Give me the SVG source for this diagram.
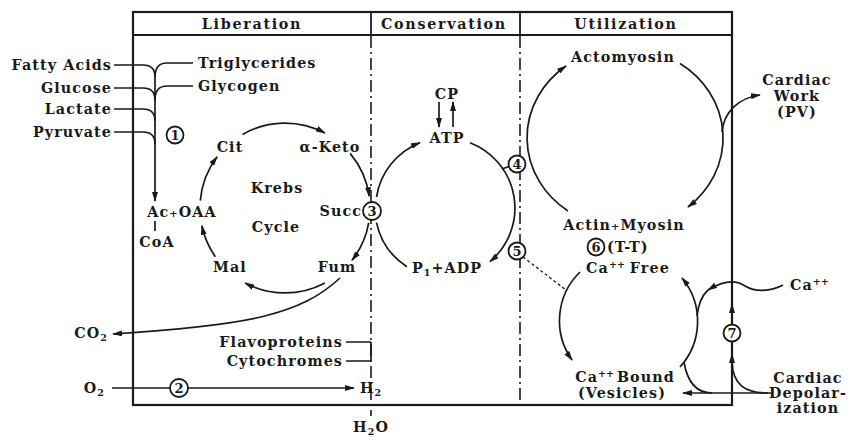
<svg xmlns="http://www.w3.org/2000/svg" width="852" height="437" viewBox="0 0 852 437">
<style>
text{font-family:"DejaVu Serif","Liberation Serif",serif;font-weight:bold;font-size:14.3px;fill:#1a1a1a;letter-spacing:1.1px}
.h{font-size:14.3px;letter-spacing:1.7px;text-anchor:middle}
.m{text-anchor:middle}
.e{text-anchor:end}
.n{font-size:13px;letter-spacing:0;text-anchor:middle}
.sub{font-size:9.5px}
.sup{font-size:9.5px;letter-spacing:0}
.ln{fill:none;stroke:#1a1a1a;stroke-width:1.7}
.ar{fill:none;stroke:#1a1a1a;stroke-width:1.7;marker-end:url(#ah)}
.dd{fill:none;stroke:#1a1a1a;stroke-width:1.6;stroke-dasharray:12 4 2 4}
.ds{fill:none;stroke:#1a1a1a;stroke-width:1.3;stroke-dasharray:3 2.5}
.c{fill:#fff;stroke:#1a1a1a;stroke-width:1.8}
</style>
<defs>
<marker id="ah" viewBox="0 0 10 6" refX="9" refY="3" markerWidth="10" markerHeight="6" markerUnits="userSpaceOnUse" orient="auto">
<path d="M0,0 L10,3 L0,6 z" fill="#1a1a1a"/>
</marker>
</defs>
<rect width="852" height="437" fill="#fff"/>

<g id="frame">
<rect x="133" y="12" width="599" height="393" fill="none" stroke="#1a1a1a" stroke-width="2.2"/>
<line x1="133" y1="35" x2="732" y2="35" stroke="#1a1a1a" stroke-width="2"/>
<line x1="371" y1="12" x2="371" y2="35" stroke="#1a1a1a" stroke-width="1.8"/>
<line x1="520" y1="12" x2="520" y2="35" stroke="#1a1a1a" stroke-width="1.8"/>
<path class="dd" d="M371,36 V416"/>
<path class="dd" d="M520,36 V405"/>
<text class="h" x="252" y="29">Liberation</text>
<text class="h" x="444" y="29">Conservation</text>
<text class="h" x="626" y="29">Utilization</text>
</g>

<g id="connectors">
<path class="ln" d="M114,65 H143 Q155,65 155,77"/>
<path class="ln" d="M193,63 H167 Q155,63 155,77"/>
<path class="ln" d="M114,88 H143 Q155,88 155,100"/>
<path class="ln" d="M193,86 H167 Q155,86 155,100"/>
<path class="ln" d="M114,109 H143 Q155,109 155,121"/>
<path class="ln" d="M114,132 H143 Q155,132 155,144"/>
<path class="ar" d="M155,75 V201"/>
<line class="ln" x1="155" y1="221" x2="155" y2="231"/>
<path class="ar" d="M242.5,134.4 A85,85 0 0 1 324.9,133"/>
<path class="ar" d="M350.1,153.4 A85,85 0 0 1 369.2,196.2"/>
<path class="ar" d="M368.7,222.8 A85,85 0 0 1 352,260.3"/>
<path class="ar" d="M324.9,283 A85,85 0 0 1 245.1,283"/>
<path class="ar" d="M215.4,256.8 A85,85 0 0 1 201.9,225.7"/>
<path class="ar" d="M200.3,200.6 A85,85 0 0 1 217.1,156.8"/>
<path class="ar" d="M340,278 C300,315 250,325 113,334"/>
<path class="ln" d="M346,342 H371 M346,361 H371 M371,342 V361"/>
<path class="ar" d="M112,388 H354"/>
<path class="ar" d="M376.5,197 A70,70 0 0 1 420,142.7"/>
<path class="ar" d="M470,142.7 A70,70 0 0 1 490,261.6"/>
<path class="ln" d="M376.5,222.6 A70,70 0 0 0 406.9,266.7"/>
<path class="ar" d="M439,102 V127"/>
<path class="ar" d="M453,127 V102"/>
<line class="ln" x1="502" y1="169" x2="510" y2="166"/>
<path class="ds" d="M523,257 L566,290"/>
<path class="ar" d="M568,211 A98,90 0 0 1 566,66"/>
<path class="ar" d="M680,63.5 A98,90 0 0 1 688,207"/>
<path class="ar" d="M722,132 C724,112 738,98 760,95"/>
<path class="ar" d="M580,272 A68,68 0 0 0 572,360"/>
<path class="ar" d="M680,367 A68,68 0 0 0 682,278"/>
<path class="ar" d="M783,285 C770,292 755,292 745,286 C738,281 726,279 708,290"/>
<path class="ln" d="M708,290 Q699,298 697,316"/>
<path class="ar" d="M772,393 H683"/>
<path class="ln" d="M768,393 C745,393 733,385 732,362"/>
<path class="ln" d="M712,393 C695,393 687,380 684,362"/>
<path class="ar" d="M732,318 V304"/>
<path class="ar" d="M732,368 V354"/>
</g>

<g id="n-fatty"><text class="e" x="112" y="70">Fatty Acids</text></g>
<g id="n-glucose"><text class="e" x="112" y="93">Glucose</text></g>
<g id="n-lactate"><text class="e" x="112" y="114">Lactate</text></g>
<g id="n-pyruvate"><text class="e" x="112" y="137">Pyruvate</text></g>
<g id="n-trig"><text x="198" y="68">Triglycerides</text></g>
<g id="n-glycogen"><text x="198" y="91">Glycogen</text></g>
<g id="n-1"><circle class="c" cx="175" cy="135" r="8.5"/><text class="n" x="175" y="139.5">1</text></g>

<g id="n-acoaa"><text class="m" x="182" y="217">Ac<tspan font-size="10">+</tspan>OAA</text></g>
<g id="n-coa"><text class="m" x="157" y="247">CoA</text></g>
<g id="n-cit"><text class="m" x="230" y="152">Cit</text></g>
<g id="n-keto"><text class="m" x="330" y="152">α-Keto</text></g>
<g id="n-krebs"><text class="m" x="277" y="193">Krebs</text><text class="m" x="276" y="232">Cycle</text></g>
<g id="n-succ"><text class="e" x="362" y="216">Succ</text></g>
<g id="n-3"><circle class="c" cx="372" cy="211" r="9"/><text class="n" x="372" y="215.5">3</text></g>
<g id="n-mal"><text class="m" x="230" y="272">Mal</text></g>
<g id="n-fum"><text class="m" x="337" y="272">Fum</text></g>

<g id="n-co2"><text class="e" x="108" y="338">CO<tspan class="sub" dy="3">2</tspan></text></g>
<g id="n-flavo"><text class="e" x="343" y="347">Flavoproteins</text></g>
<g id="n-cyto"><text class="e" x="343" y="366">Cytochromes</text></g>
<g id="n-o2"><text class="e" x="105" y="393">O<tspan class="sub" dy="3">2</tspan></text></g>
<g id="n-2"><circle class="c" cx="179" cy="388" r="9"/><text class="n" x="179" y="392.5">2</text></g>
<g id="n-h2"><text x="360" y="393">H<tspan class="sub" dy="3">2</tspan></text></g>
<g id="n-h2o"><text class="m" x="371" y="432">H<tspan class="sub" dy="3">2</tspan><tspan dy="-3">O</tspan></text></g>

<g id="n-cp"><text class="m" x="447" y="99">CP</text></g>
<g id="n-atp"><text class="m" x="447" y="143">ATP</text></g>
<g id="n-padp"><text class="m" x="447" y="273">P<tspan class="sub" dy="3">1</tspan><tspan dy="-3">+ADP</tspan></text></g>
<g id="n-4"><circle class="c" cx="517" cy="164" r="8.5"/><text class="n" x="517" y="168.5">4</text></g>
<g id="n-5"><circle class="c" cx="517" cy="251" r="8.5"/><text class="n" x="517" y="255.5">5</text></g>

<g id="n-actomyosin"><text class="m" x="623" y="62">Actomyosin</text></g>
<g id="n-work"><text class="m" x="797" y="85">Cardiac</text><text class="m" x="797" y="101">Work</text><text class="m" x="797" y="117">(PV)</text></g>
<g id="n-actin"><text class="m" x="624" y="230">Actin<tspan font-size="10">+</tspan>Myosin</text></g>
<g id="n-6"><circle class="c" cx="596" cy="247" r="8.5"/><text class="n" x="596" y="251.5">6</text><text x="607" y="252">(T-T)</text></g>
<g id="n-cafree"><text class="m" x="628" y="273">Ca<tspan class="sup" dy="-5">++</tspan><tspan dy="5" dx="5">Free</tspan></text></g>
<g id="n-cabound"><text class="m" x="625" y="382">Ca<tspan class="sup" dy="-5">++</tspan><tspan dy="5" dx="3">Bound</tspan></text><text class="m" x="622" y="398">(Vesicles)</text></g>
<g id="n-ca"><text x="790" y="290">Ca<tspan class="sup" dy="-5">++</tspan></text></g>
<g id="n-7"><circle class="c" cx="732" cy="333" r="8.5"/><text class="n" x="732" y="337.5">7</text></g>
<g id="n-depol"><text class="m" x="808" y="383">Cardiac</text><text class="m" x="808" y="398">Depolar-</text><text class="m" x="808" y="413">ization</text></g>
</svg>
